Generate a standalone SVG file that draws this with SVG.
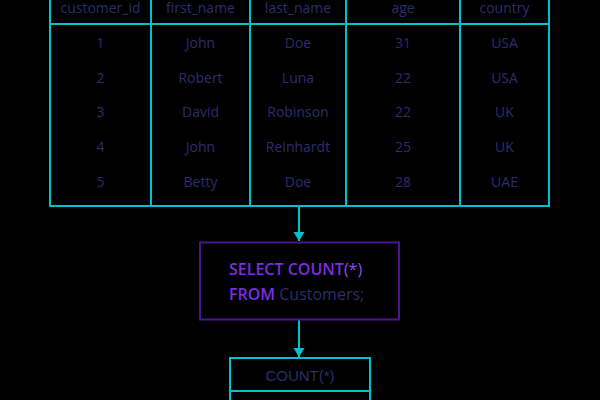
<svg xmlns="http://www.w3.org/2000/svg" width="600" height="400" viewBox="0 0 600 400">
<defs>
<style>
.ln{stroke:#00c2cc;stroke-width:2;fill:none}
.t{font-family:"Open Sans","Liberation Sans",sans-serif;font-size:14px;fill:#2c2d6c;text-anchor:middle}
.kw{fill:#7a2ee0;font-weight:600}
.sq{font-family:"Open Sans","Liberation Sans",sans-serif;font-size:16px;fill:#2c2d6c}
</style>
<marker id="a" viewBox="0 0 10 12" refX="9" refY="6" markerWidth="10" markerHeight="12" orient="auto" markerUnits="userSpaceOnUse">
<path d="M0,0.5 L9,6 L0,11.5 z" fill="#00c2cc"/>
</marker>
</defs>
<rect width="600" height="400" fill="#000"/>
<g id="table">
<rect class="ln" x="50" y="-10" width="499" height="216"/>
<line class="ln" x1="50" y1="24" x2="549" y2="24"/>
<line class="ln" x1="151" y1="-10" x2="151" y2="206"/>
<line class="ln" x1="250" y1="-10" x2="250" y2="206"/>
<line class="ln" x1="346" y1="-10" x2="346" y2="206"/>
<line class="ln" x1="460" y1="-10" x2="460" y2="206"/>
<g class="t">
<text x="100.5" y="13">customer_id</text><text x="200.5" y="13">first_name</text><text x="298" y="13">last_name</text><text x="403" y="13">age</text><text x="504.5" y="13">country</text>
<text x="100.5" y="48">1</text><text x="200.5" y="48">John</text><text x="298" y="48">Doe</text><text x="403" y="48">31</text><text x="504.5" y="48">USA</text>
<text x="100.5" y="82.5">2</text><text x="200.5" y="82.5">Robert</text><text x="298" y="82.5">Luna</text><text x="403" y="82.5">22</text><text x="504.5" y="82.5">USA</text>
<text x="100.5" y="117">3</text><text x="200.5" y="117">David</text><text x="298" y="117">Robinson</text><text x="403" y="117">22</text><text x="504.5" y="117">UK</text>
<text x="100.5" y="152">4</text><text x="200.5" y="152">John</text><text x="298" y="152">Reinhardt</text><text x="403" y="152">25</text><text x="504.5" y="152">UK</text>
<text x="100.5" y="187">5</text><text x="200.5" y="187">Betty</text><text x="298" y="187">Doe</text><text x="403" y="187">28</text><text x="504.5" y="187">UAE</text>
</g>
</g>
<g id="connectors">
<line class="ln" x1="299" y1="206" x2="299" y2="241" stroke-width="3" marker-end="url(#a)"/>
<line class="ln" x1="299" y1="320" x2="299" y2="357" stroke-width="3" marker-end="url(#a)"/>
</g>
<g id="query">
<rect x="200" y="242.5" width="199" height="77" fill="none" stroke="#4a148c" stroke-width="2"/>
<text class="sq" x="229" y="275"><tspan class="kw">SELECT COUNT</tspan><tspan fill="#8a4fe8">(*)</tspan></text>
<text class="sq" x="229" y="299.5"><tspan class="kw">FROM</tspan> Customers;</text>
</g>
<g id="result">
<rect class="ln" x="230" y="358" width="140" height="60"/>
<line class="ln" x1="230" y1="391" x2="370" y2="391"/>
<text x="300" y="381" font-family="Liberation Sans,Arial,sans-serif" font-size="15" fill="#2c2d6c" text-anchor="middle">COUNT(*)</text>
</g>
</svg>
